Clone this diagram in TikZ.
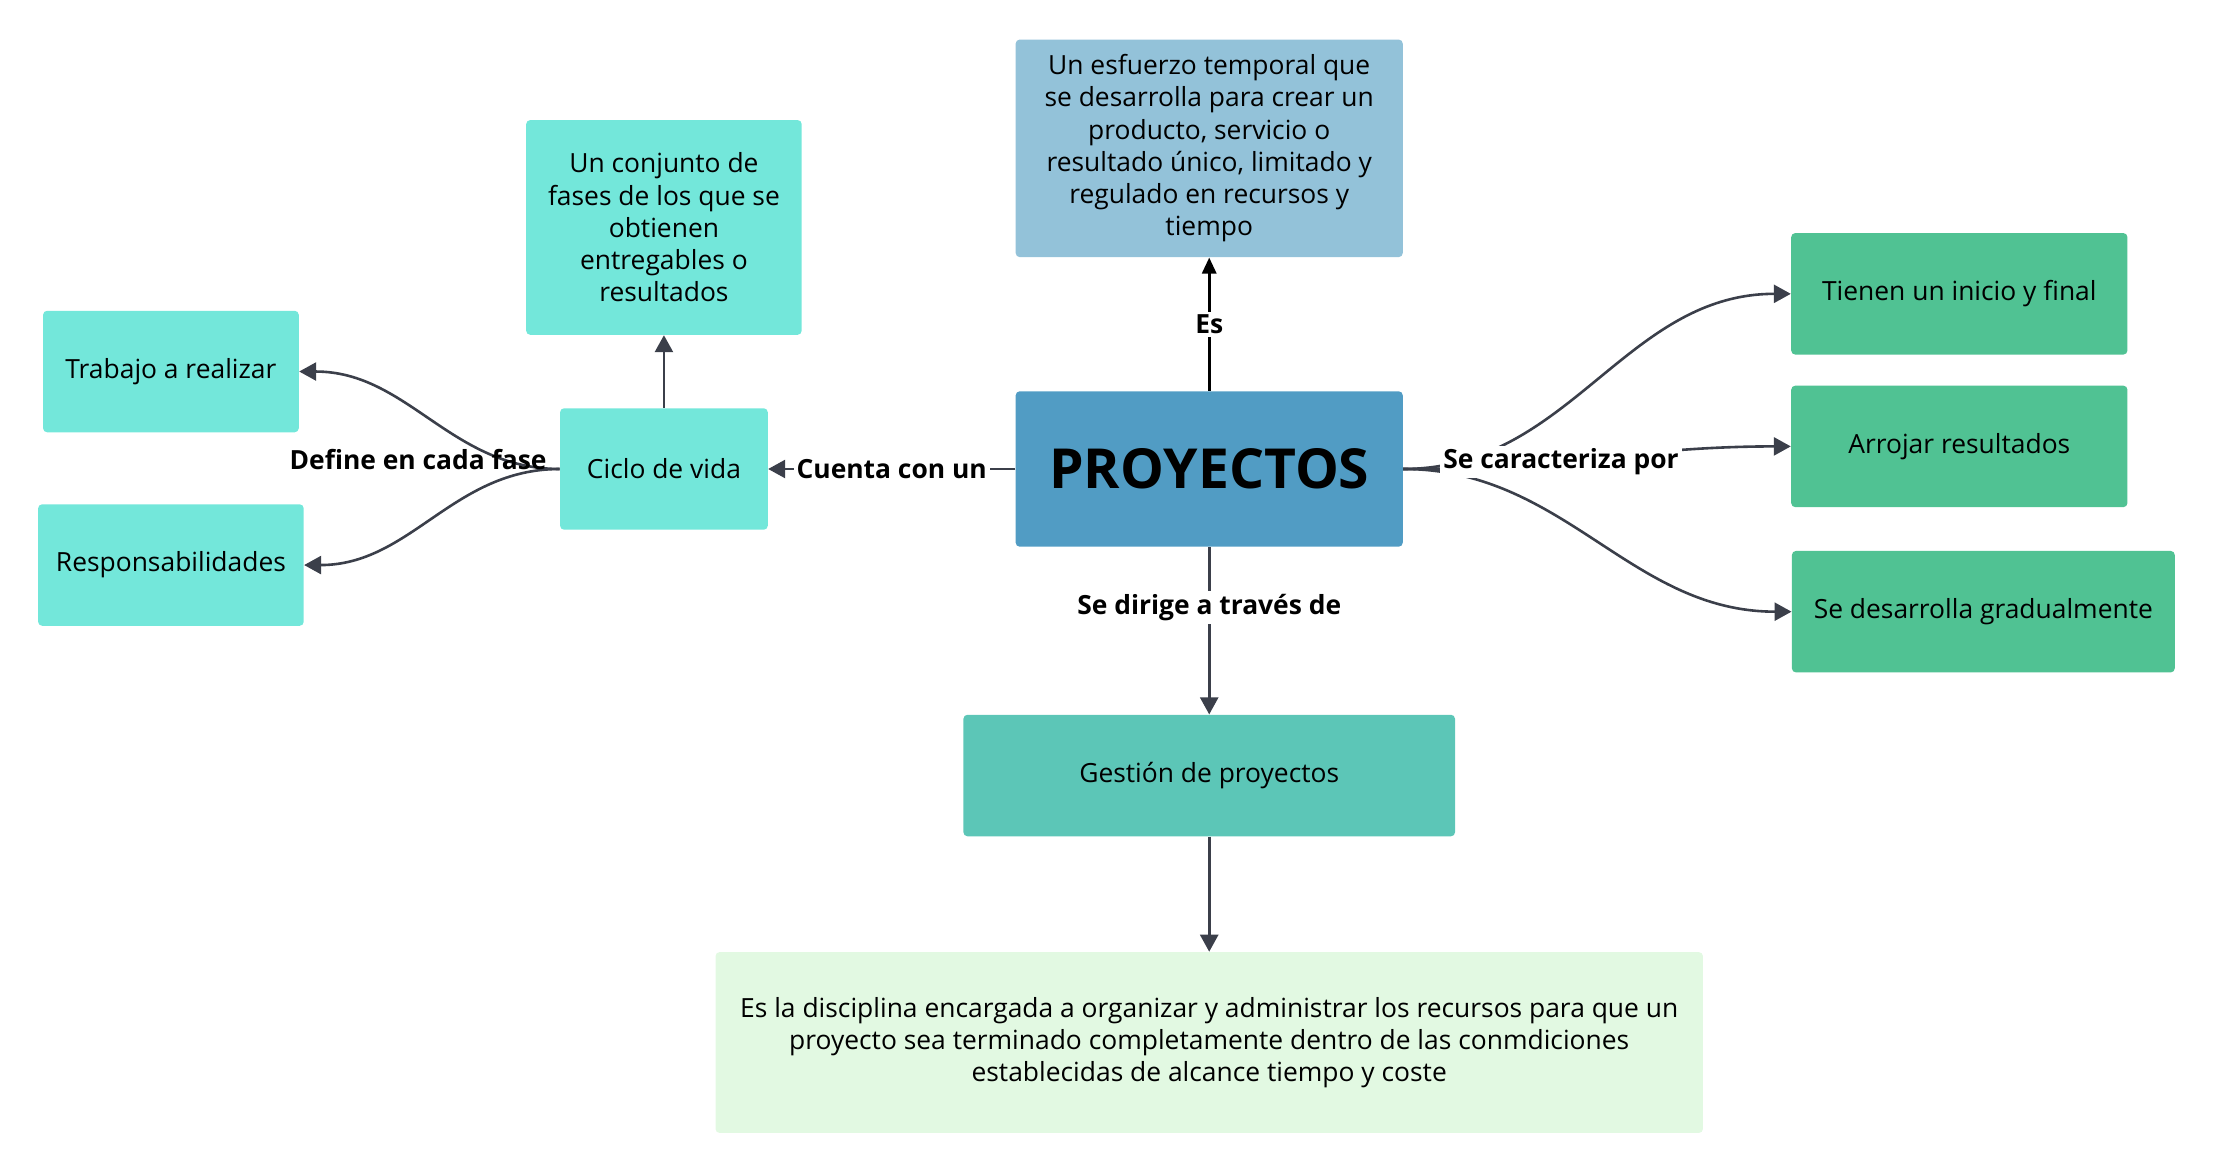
\documentclass[tikz,border=0pt]{standalone}
\usepackage{fontspec}
\setmainfont{Open Sans}
\usetikzlibrary{arrows.meta}

\definecolor{esfuerzoblue}{HTML}{93C2D9}
\definecolor{proyblue}{HTML}{519CC4}
\definecolor{cicloturq}{HTML}{73E7DA}
\definecolor{rasgogreen}{HTML}{50C293}
\definecolor{gestionteal}{HTML}{5CC6B7}
\definecolor{discgreen}{HTML}{E2F9E2}
\definecolor{linkgray}{HTML}{3B3F4A}

\def\px{0.7063pt}

\begin{document}
\begin{tikzpicture}
  [x=0.7063pt,y=-0.7063pt,
   box/.style={rectangle,rounded corners=2pt,inner sep=0pt,align=center,
     font=\fontsize{13.2}{16.1}\selectfont},
   link/.style={draw=linkgray,line width=1.3pt,-{Triangle[length=8.5pt,width=9pt]}},
   linkblack/.style={draw=black,line width=1.5pt,-{Triangle[length=8pt,width=7pt]}},
   lbl/.style={fill=white,inner sep=1.5pt,font=\fontsize{13.2}{15}\selectfont\bfseries},
   lblplain/.style={inner sep=0pt,font=\fontsize{13.2}{15}\selectfont\bfseries}]

  \useasboundingbox (0,0) rectangle (1568,830);

  \node[box,fill=esfuerzoblue,minimum width=274*\px,minimum height=154*\px] (esfuerzo) at (856,105)
    {Un esfuerzo temporal que\\se desarrolla para crear un\\producto, servicio o\\resultado único, limitado y\\regulado en recursos y\\tiempo};

  \node[box,fill=proyblue,minimum width=274*\px,minimum height=110*\px,
    font=\fontsize{27.6}{30}\selectfont\bfseries] (proy) at (856,332) {PROYECTOS};

  \node[box,fill=cicloturq,minimum width=195*\px,minimum height=152*\px] (conjunto) at (470,161)
    {Un conjunto de\\fases de los que se\\obtienen\\entregables o\\resultados};

  \node[box,fill=cicloturq,minimum width=181*\px,minimum height=86*\px] (trabajo) at (121,263) {Trabajo a realizar};
  \node[box,fill=cicloturq,minimum width=147*\px,minimum height=86*\px] (ciclo) at (470,332) {Ciclo de vida};
  \node[box,fill=cicloturq,minimum width=188*\px,minimum height=86*\px] (resp) at (121,400) {Responsabilidades};

  \node[box,fill=rasgogreen,minimum width=238*\px,minimum height=86*\px] (tienen) at (1387,208) {Tienen un inicio y final};
  \node[box,fill=rasgogreen,minimum width=238*\px,minimum height=86*\px] (arrojar) at (1387,316) {Arrojar resultados};
  \node[box,fill=rasgogreen,minimum width=271*\px,minimum height=86*\px] (gradual) at (1404,433) {Se desarrolla gradualmente};

  \node[box,fill=gestionteal,minimum width=348*\px,minimum height=86*\px] (gestion) at (856,549) {Gestión de proyectos};

  \node[box,fill=discgreen,minimum width=699*\px,minimum height=128*\px] (disc) at (856,738)
    {Es la disciplina encargada a organizar y administrar los recursos para que un\\proyecto sea terminado completamente dentro de las conmdiciones\\establecidas de alcance tiempo y coste};

  \draw[linkblack] (proy) -- (esfuerzo) node[lbl,midway] {Es};
  \draw[link] (proy) -- (gestion) node[lbl,pos=0.36] {Se dirige a través de};
  \draw[link] (gestion) -- (disc);
  \draw[link] (proy) -- (ciclo) node[lbl,midway] {Cuenta con un};
  \draw[link] (ciclo) -- (conjunto);

  \draw[link] (ciclo.west) to[out=180,in=0] (trabajo.east);
  \draw[link] (ciclo.west) to[out=180,in=0] (resp.east);
  \node[lblplain] (deflbl) at (296,325) {Define en cada fase};

  \draw[link] (proy.east) to[out=0,in=180] (tienen.west);
  \draw[link] (proy.east) to[out=0,in=180] (arrojar.west);
  \draw[link] (proy.east) to[out=0,in=180] (gradual.west);
  \node[lbl] (carlbl) at (1105,327) {Se caracteriza por};
\end{tikzpicture}
\end{document}
